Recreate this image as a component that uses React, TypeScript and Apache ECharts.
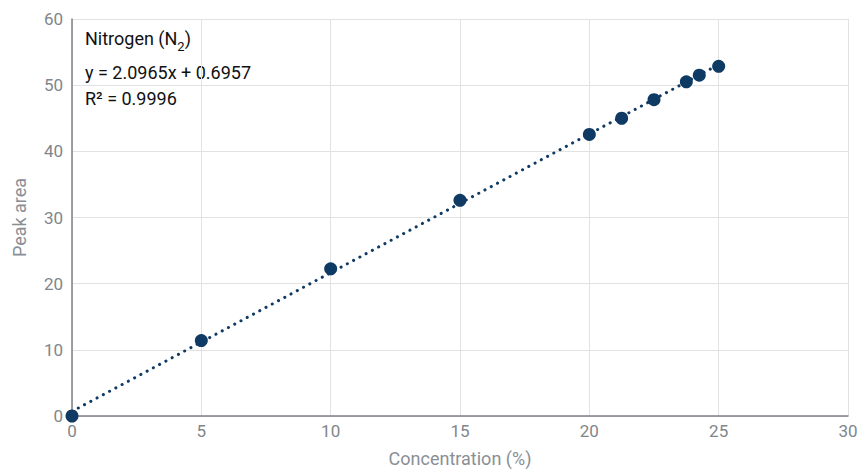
import React, { useEffect, useRef } from "react";
import * as echarts from "echarts";

// Calibration points: concentration (%) vs. peak area
const concentration = [0, 5, 10, 15, 20, 21.25, 22.5, 23.75, 24.25, 25];
const peakArea = [0, 11.4, 22.25, 32.6, 42.55, 45.0, 47.8, 50.5, 51.5, 52.85];

// Linear fit shown on the chart
const slope = 2.0965;
const intercept = 0.6957;
const rSquared = 0.9996;
const fitRange = [0, 25];

const xTicks = { min: 0, max: 30, interval: 5 };
const yTicks = { min: 0, max: 60, interval: 10 };

const NAVY = "#0f3a63";
const FONT = "Roboto, 'Noto Sans', sans-serif";

export default function App() {
  const ref = useRef<HTMLDivElement>(null);

  useEffect(() => {
    document.body.style.margin = "0";
    if (!ref.current) return;
    const chart = echarts.init(ref.current, undefined, { renderer: "svg" });
    const fitLine = fitRange.map((x) => [x, slope * x + intercept]);

    chart.setOption({
      animation: false,
      textStyle: { fontFamily: FONT },
      grid: { left: 72, right: 20, top: 19, bottom: 53 },
      xAxis: {
        type: "value",
        ...xTicks,
        name: "Concentration (%)",
        nameLocation: "middle",
        nameGap: 33,
        nameTextStyle: { color: "#8a8f96", fontSize: 18, fontFamily: FONT },
        axisLine: { show: true, lineStyle: { color: "#7d8288", width: 1.5 } },
        axisTick: { show: false },
        axisLabel: { color: "#80868b", fontSize: 17, margin: 6, fontFamily: FONT },
        splitLine: { show: true, lineStyle: { color: "#e2e2e2", width: 1 } },
      },
      yAxis: {
        type: "value",
        ...yTicks,
        name: "Peak area",
        nameLocation: "middle",
        nameGap: 44,
        nameTextStyle: { color: "#8a8f96", fontSize: 18, fontFamily: FONT },
        axisLine: { show: true, lineStyle: { color: "#7d8288", width: 1.5 } },
        axisTick: { show: false },
        axisLabel: { color: "#80868b", fontSize: 17, margin: 9, fontFamily: FONT },
        splitLine: { show: true, lineStyle: { color: "#e2e2e2", width: 1 } },
      },
      graphic: [
        {
          type: "text",
          left: 85,
          top: 29,
          style: {
            text: "{n|Nitrogen (N}{s|2}{n|)}",
            rich: {
              n: { fontSize: 18, fill: "#111", fontFamily: FONT },
              s: { fontSize: 13, fill: "#111", fontFamily: FONT, padding: [16, 0, 0, 0] },
            },
          },
        },
        {
          type: "text",
          left: 85,
          top: 63,
          style: {
            text: `y = ${slope}x + ${intercept}`,
            fontSize: 18,
            fill: "#111",
            fontFamily: FONT,
          },
        },
        {
          type: "text",
          left: 85,
          top: 89,
          style: {
            text: `R² = ${rSquared}`,
            fontSize: 18,
            fill: "#111",
            fontFamily: FONT,
          },
        },
      ],
      series: [
        {
          type: "line",
          data: fitLine,
          showSymbol: false,
          lineStyle: { color: NAVY, width: 3, type: [0.1, 7], cap: "round" },
          silent: true,
          z: 1,
        },
        {
          type: "scatter",
          data: concentration.map((x, i) => [x, peakArea[i]]),
          symbol: "circle",
          symbolSize: 13,
          itemStyle: { color: NAVY, opacity: 1 },
          z: 2,
        },
      ],
    });
    return () => chart.dispose();
  }, []);

  return <div ref={ref} style={{ width: 868, height: 472 }} />;
}
